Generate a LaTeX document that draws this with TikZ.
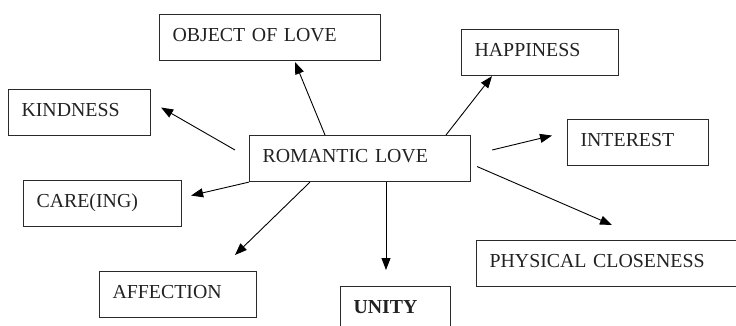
\documentclass[tikz,border=0pt]{standalone}
\usepackage{fontspec}
\setmainfont{Liberation Serif}
\usetikzlibrary{arrows.meta}
\definecolor{ink}{HTML}{222222}
\definecolor{edge}{HTML}{2A2A2A}
\begin{document}
\begin{tikzpicture}[x=1pt,y=-1pt,
  concept/.style={draw=edge, line width=1.1pt, anchor=north west,
    inner xsep=13pt, inner ysep=13.4pt, text height=13.1pt, text depth=6.1pt,
    align=left, text=ink, font=\fontsize{19.85}{23}\selectfont},
  link/.style={draw=black, line width=0.9pt,
    -{Triangle[length=12pt,width=9pt]}}]
\useasboundingbox (0,0) rectangle (736,326);
\clip (0,0) rectangle (736,326);

% concept boxes (box width = text width + 26)
\node[concept, text width=195pt] (obj)   at (159,14)  {OBJECT OF LOVE};
\node[concept, text width=116pt] (kind)  at (8,89)    {KINDNESS};
\node[concept, text width=132pt] (care)  at (23,180)  {CARE(ING)};
\node[concept, text width=195pt] (rom)   at (249,135) {ROMANTIC LOVE};
\node[concept, text width=131pt] (happy) at (461,29)  {HAPPINESS};
\node[concept, text width=115pt] (inter) at (567,119) {INTEREST};
\node[concept, text width=131pt] (aff)   at (99,271)  {AFFECTION};
\node[concept, text width=84pt, font=\fontsize{19.85}{23}\selectfont\bfseries] (unity) at (340,286) {UNITY};
\node[concept, text width=254pt] (phys)  at (476,240) {PHYSICAL CLOSENESS};

% arrows out of the central concept
\draw[link] ([xshift=76pt]rom.north west)  -- ([xshift=136pt,yshift=-1pt]obj.south west);
\draw[link] ([xshift=-14pt,yshift=-15pt]rom.north west) -- ([xshift=10pt,yshift=5pt]kind.east);
\draw[link] (rom.south west) -- ([xshift=9pt,yshift=8pt]care.east);
\draw[link] ([xshift=61pt]rom.south west)  -- ([xshift=136pt,yshift=16pt]aff.north west);
\draw[link] ([xshift=137pt]rom.south west) -- ([xshift=46pt,yshift=16pt]unity.north west);
\draw[link] ([xshift=197pt]rom.north west) -- ([xshift=31pt]happy.south west);
\draw[link] ([xshift=21pt,yshift=-15pt]rom.north east) -- ([xshift=-15pt,yshift=7pt]inter.west);
\draw[link] ([xshift=6pt,yshift=-8pt]rom.east) -- ([xshift=136pt,yshift=15pt]phys.north west);
\end{tikzpicture}
\end{document}
